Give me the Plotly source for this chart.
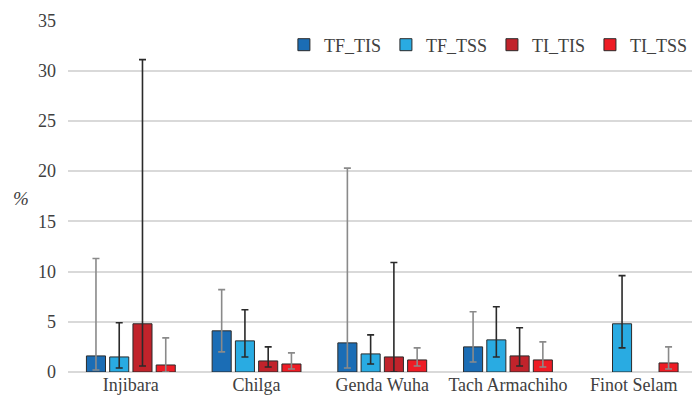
import plotly.graph_objects as go

# Sites along the x axis
sites = ["Injibara", "Chilga", "Genda Wuha", "Tach Armachiho", "Finot Selam"]

# Mean values (%) per series
tf_tis = [1.6, 4.1, 2.9, 2.5, None]
tf_tss = [1.5, 3.1, 1.8, 3.2, 4.8]
ti_tis = [4.8, 1.1, 1.5, 1.6, None]
ti_tss = [0.7, 0.8, 1.2, 1.2, 0.9]

# Upper and lower ends of the error bars (%)
tf_tis_hi = [11.3, 8.2, 20.3, 6.0, None]
tf_tis_lo = [0.2, 2.0, 0.4, 1.0, None]
tf_tss_hi = [4.9, 6.2, 3.7, 6.5, 9.6]
tf_tss_lo = [0.4, 1.5, 0.8, 1.5, 2.4]
ti_tis_hi = [31.1, 2.5, 10.9, 4.4, None]
ti_tis_lo = [0.6, 0.5, 0.0, 0.6, None]
ti_tss_hi = [3.4, 1.9, 2.4, 3.0, 2.5]
ti_tss_lo = [0.0, 0.3, 0.6, 0.5, 0.3]

series = [
    ("TF_TIS", tf_tis, tf_tis_hi, tf_tis_lo, "#1b6db5", "#8a8a8a"),
    ("TF_TSS", tf_tss, tf_tss_hi, tf_tss_lo, "#29abe2", "#2a2a2a"),
    ("TI_TIS", ti_tis, ti_tis_hi, ti_tis_lo, "#c1232b", "#2a2a2a"),
    ("TI_TSS", ti_tss, ti_tss_hi, ti_tss_lo, "#ee1c25", "#8a8a8a"),
]


def spread(vals, ends, upper):
    out = []
    for v, e in zip(vals, ends):
        if v is None or e is None:
            out.append(None)
        else:
            out.append(e - v if upper else v - e)
    return out


fig = go.Figure()
for name, vals, hi, lo, color, ecolor in series:
    fig.add_trace(go.Bar(
        name=name,
        x=list(range(len(sites))),
        y=vals,
        marker=dict(color=color, line=dict(color="#2b2b2b", width=1)),
        error_y=dict(
            type="data",
            symmetric=False,
            array=spread(vals, hi, True),
            arrayminus=spread(vals, lo, False),
            color=ecolor,
            thickness=1.6,
            width=3.5,
        ),
    ))

font_family = "Liberation Serif"
text_color = "#404040"

fig.update_layout(
    width=692,
    height=402,
    margin=dict(l=68, r=0, t=20, b=30, autoexpand=False),
    paper_bgcolor="white",
    plot_bgcolor="white",
    barmode="group",
    bargap=0.26,
    bargroupgap=0.18,
    font=dict(family=font_family, size=18, color=text_color),
    showlegend=True,
    legend=dict(
        orientation="h",
        x=0.346,
        y=0.929,
        xanchor="left",
        yanchor="middle",
        bgcolor="rgba(0,0,0,0)",
        font=dict(family=font_family, size=18, color=text_color),
        itemwidth=30,
        traceorder="normal",
    ),
    xaxis=dict(
        tickmode="array",
        tickvals=list(range(len(sites))),
        ticktext=sites,
        range=[-0.5, 4.464],
        showgrid=False,
        showline=False,
        zeroline=False,
        ticks="",
        tickfont=dict(family=font_family, size=18, color=text_color),
    ),
    yaxis=dict(
        range=[0, 35.05],
        dtick=5,
        showgrid=True,
        gridcolor="#d9d9d9",
        gridwidth=1.5,
        zeroline=True,
        zerolinecolor="#d9d9d9",
        zerolinewidth=1.5,
        showline=False,
        ticks="",
        ticklabelstandoff=11,
        tickfont=dict(family=font_family, size=18, color=text_color),
    ),
    annotations=[
        dict(
            text="<i>%</i>",
            xref="paper",
            yref="paper",
            x=-0.0753,
            y=0.494,
            xanchor="center",
            yanchor="middle",
            showarrow=False,
            font=dict(family=font_family, size=19, color=text_color),
        )
    ],
)

fig.write_html("out.html")
